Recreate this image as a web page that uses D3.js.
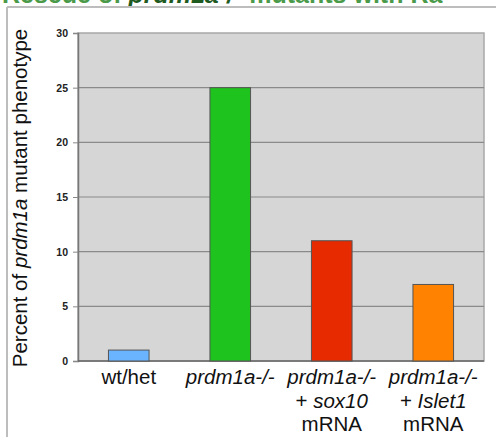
<!DOCTYPE html>
<html><head><meta charset="utf-8">
<script src="https://cdn.jsdelivr.net/npm/d3@7"></script>
<style>body{margin:0;background:#fff;}svg{display:block;font-family:"Liberation Sans",Arial,sans-serif;}</style>
</head><body>
<script>
const categories = ["wt/het", "prdm1a-/-", "prdm1a-/- + sox10 mRNA", "prdm1a-/- + Islet1 mRNA"];
const values = [1, 25, 11, 7];
const colors = ["#6ab4ff", "#1ec31e", "#e82a00", "#ff8200"];
const yTicks = [0, 5, 10, 15, 20, 25, 30];
// label lines: [text, italic]
const labelLines = [
  [[["wt/het", false]]],
  [[["prdm1a-/-", true]]],
  [[["prdm1a-/-", true]], [["+ ", false], ["sox10", true]], [["mRNA", false]]],
  [[["prdm1a-/-", true]], [["+ ", false], ["Islet1", true]], [["mRNA", false]]]
];

const W = 496, H = 437;
const svg = d3.select("body").append("svg").attr("width", W).attr("height", H);

// title (cut off at top, as in the reference)
const title = svg.append("text").attr("x", 2).attr("y", 3)
  .attr("font-size", 25).attr("font-weight", "bold").attr("fill", "#4a9a4a");
title.append("tspan").text("Rescue of ");
title.append("tspan").attr("font-style", "italic").attr("fill", "#1f5a1f").text("prdm1a-/-");
title.append("tspan").text(" mutants with Ra");

// outer frame lines
svg.append("line").attr("x1", 7).attr("x2", W).attr("y1", 7).attr("y2", 7).attr("stroke", "#bdbdbd").attr("stroke-width", 2);
svg.append("line").attr("x1", 7).attr("x2", 7).attr("y1", 7).attr("y2", H).attr("stroke", "#bdbdbd").attr("stroke-width", 2);

const m = {left: 78, right: 484, top: 33, bottom: 361};
const x = d3.scaleBand().domain(categories).range([m.left, m.right]).paddingInner(0.6).paddingOuter(0.3);
const y = d3.scaleLinear().domain([0, 30]).range([m.bottom, m.top]);

svg.append("rect").attr("x", m.left).attr("y", m.top).attr("width", m.right - m.left).attr("height", m.bottom - m.top)
  .attr("fill", "#d6d6d6").attr("stroke", "#a8a8a8").attr("stroke-width", 1.5);

svg.append("g").selectAll("line").data(yTicks.filter(d => d > 0 && d < 30)).join("line")
  .attr("x1", m.left).attr("x2", m.right).attr("y1", d => y(d)).attr("y2", d => y(d))
  .attr("stroke", "#8a8a8a").attr("stroke-width", 1.2);

const yAxis = svg.append("g").attr("transform", `translate(${m.left},0)`)
  .call(d3.axisLeft(y).tickValues(yTicks).tickSize(5).tickPadding(5));
yAxis.select(".domain").attr("stroke", "#777").attr("stroke-width", 1.5);
yAxis.selectAll(".tick line").attr("stroke", "#888");
yAxis.selectAll(".tick text").attr("font-size", 10.5).attr("font-weight", "bold").attr("fill", "#222")
  .attr("font-family", "'Liberation Sans',Arial,sans-serif");

svg.append("line").attr("x1", m.left).attr("x2", m.right).attr("y1", m.bottom).attr("y2", m.bottom).attr("stroke", "#666").attr("stroke-width", 1.5);

svg.append("g").selectAll("rect").data(categories).join("rect")
  .attr("x", d => x(d)).attr("width", x.bandwidth())
  .attr("y", (d, i) => y(values[i])).attr("height", (d, i) => y(0) - y(values[i]))
  .attr("fill", (d, i) => colors[i]).attr("stroke", "#555").attr("stroke-width", 1);

// x labels
categories.forEach((c, i) => {
  const t = svg.append("text").attr("text-anchor", "middle").attr("font-size", 20.5).attr("fill", "#111");
  labelLines[i].forEach((line, li) => {
    line.forEach((seg, si) => {
      const ts = t.append("tspan").text(seg[0]).attr("font-style", seg[1] ? "italic" : "normal");
      if (si === 0) ts.attr("x", x(c) + x.bandwidth() / 2).attr("y", 384 + li * 23.5);
    });
  });
});

// y title
const yt = svg.append("text").attr("transform", `translate(27,198) rotate(-90)`)
  .attr("text-anchor", "middle").attr("font-size", 20.5).attr("fill", "#111");
yt.append("tspan").text("Percent of ");
yt.append("tspan").attr("font-style", "italic").text("prdm1a");
yt.append("tspan").text(" mutant phenotype");
</script>
</body></html>
